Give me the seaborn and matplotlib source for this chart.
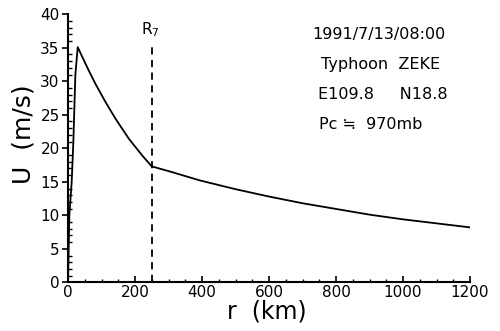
import matplotlib
matplotlib.use("Agg")
import matplotlib.pyplot as plt
from matplotlib.ticker import MultipleLocator
import seaborn as sns
import pandas as pd

# Radial wind profile U(r)
r_km = [0, 2, 4, 11, 16, 22, 29, 42, 62, 82, 112, 142, 182, 222, 250,
        300, 394, 500, 600, 700, 806, 900, 1000, 1100, 1200]
u_ms = [0, 5, 10, 15, 21, 31, 35.1, 33.7, 31.6, 29.6, 26.9, 24.4, 21.4, 18.9, 17.3,
        16.6, 15.2, 13.9, 12.8, 11.8, 10.9, 10.1, 9.4, 8.8, 8.2]

r7_km = 250
r7_top = 35.1

x_ticks = [0, 200, 400, 600, 800, 1000, 1200]
y_ticks = [0, 5, 10, 15, 20, 25, 30, 35, 40]

info_lines = ["1991/7/13/08:00", "Typhoon  ZEKE", "E109.8     N18.8", "Pc \u2252  970mb"]

sns.set_style("ticks")
plt.rcParams["font.family"] = ["DejaVu Sans"]
plt.rcParams["text.color"] = "black"
plt.rcParams["axes.labelcolor"] = "black"
plt.rcParams["xtick.color"] = "black"
plt.rcParams["ytick.color"] = "black"

fig = plt.figure(figsize=(5.0, 3.31), dpi=100)
ax = fig.add_axes([0.136, 0.147, 0.804, 0.81])

df = pd.DataFrame({"r": r_km, "U": u_ms})
sns.lineplot(data=df, x="r", y="U", ax=ax, color="black", linewidth=1.3)

ax.plot([r7_km, r7_km], [0, r7_top], color="black", linestyle=(0, (4, 3)), linewidth=1.3)
ax.text(r7_km - 5, 37.0, "R$_7$", ha="center", va="baseline", fontsize=11)

ax.set_xlim(0, 1200)
ax.set_ylim(0, 40)
ax.set_xticks(x_ticks)
ax.set_yticks(y_ticks)
ax.xaxis.set_minor_locator(MultipleLocator(50))
ax.yaxis.set_minor_locator(MultipleLocator(1))
ax.tick_params(axis="both", which="major", labelsize=11, length=4, width=1.2,
               color="black", labelcolor="black")
ax.tick_params(axis="x", which="major", direction="in", pad=2)
ax.tick_params(axis="x", which="minor", direction="in", length=2.5, width=1)
ax.tick_params(axis="y", which="major", direction="out", pad=2)
ax.tick_params(axis="y", which="minor", direction="in", length=3, width=1)

ax.set_xlabel("r  (km)", fontsize=17)
ax.set_ylabel("U  (m/s)", fontsize=18)
ax.xaxis.set_label_coords(0.495, -0.065)
ax.yaxis.set_label_coords(-0.082, 0.553)

for side in ("top", "right"):
    ax.spines[side].set_visible(False)
for side in ("left", "bottom"):
    ax.spines[side].set_linewidth(1.5)
    ax.spines[side].set_color("black")

ys = [0.926, 0.811, 0.699, 0.587]
xs = [0.607, 0.629, 0.622, 0.624]
for line, x, y in zip(info_lines, xs, ys):
    ax.text(x, y, line, transform=ax.transAxes, fontsize=11.5, ha="left", va="center")

fig.savefig("out.png", dpi=100)
